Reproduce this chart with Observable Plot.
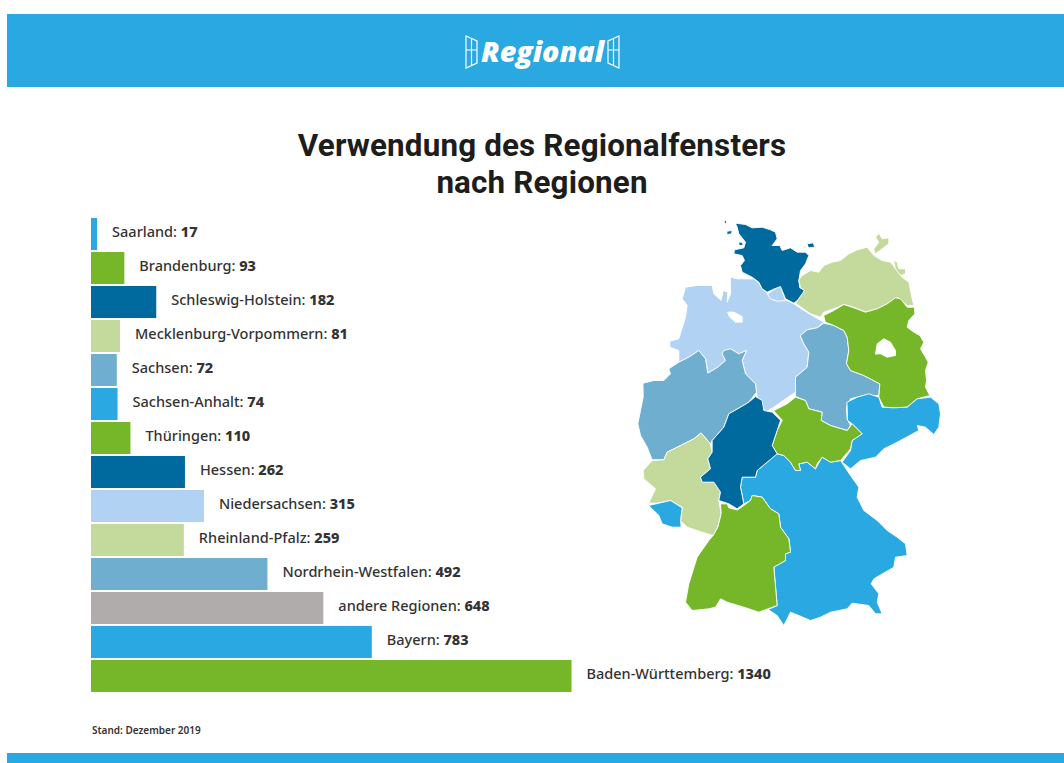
<!DOCTYPE html>
<html lang="de">
<head>
<meta charset="utf-8">
<script src="https://cdn.jsdelivr.net/npm/d3@7"></script>
<script src="https://cdn.jsdelivr.net/npm/@observablehq/plot@0.6"></script>
<style>
html,body{margin:0;padding:0;background:#fff;width:1064px;height:763px;overflow:hidden}
.abs{position:absolute}
#band{left:7px;top:14px;width:1057px;height:73px;background:#29a8e1}
#foot{left:7px;top:753px;width:1057px;height:10px;background:#29a8e1}
#logo{left:460px;top:32px}
h1{position:absolute;left:0;top:127px;width:1084px;margin:0;text-align:center;font:700 31.4px/37px Roboto,sans-serif;color:#1d1d1b;letter-spacing:.15px}
#caption{left:92px;top:723px;font:600 10px/14px "Noto Sans",sans-serif;color:#333}
#bars{left:0;top:210px}
#map{left:630px;top:210px}
svg{display:block}
</style>
</head>
<body>
<div id="band" class="abs"></div>
<svg id="logo" class="abs" width="165" height="42" viewBox="0 0 165 42">
  <g fill="none" stroke="#fff" stroke-width="1.2">
    <path d="M6 4 L17 9 V31 L6 36 Z M11.5 6.5 V33.5 M6 18 H17"/>
    <path d="M159 4 L148 9 V31 L159 36 Z M153.5 6.5 V33.5 M148 18 H159"/>
  </g>
  <text x="82.5" y="30" text-anchor="middle" textLength="123" lengthAdjust="spacingAndGlyphs" font-family="Open Sans" font-weight="800" font-style="italic" font-size="29" fill="#fff">Regional</text>
</svg>
<h1>Verwendung des Regionalfensters<br>nach Regionen</h1>
<div id="bars" class="abs"></div>
<div id="map" class="abs"></div>
<div id="caption" class="abs">Stand: Dezember 2019</div>
<div id="foot" class="abs"></div>
<script>
const regions = ["Saarland","Brandenburg","Schleswig-Holstein","Mecklenburg-Vorpommern","Sachsen","Sachsen-Anhalt","Thüringen","Hessen","Niedersachsen","Rheinland-Pfalz","Nordrhein-Westfalen","andere Regionen","Bayern","Baden-Württemberg"];
const counts = [17,93,182,81,72,74,110,262,315,259,492,648,783,1340];
const blue="#29a8e1", green="#76b72a", navy="#00699d", paleGreen="#c4da9c", steel="#70aecf", paleBlue="#b1d2f3", grey="#b0acac";
const barColors = [blue,green,navy,paleGreen,steel,blue,green,navy,paleBlue,paleGreen,steel,grey,blue,green];

// Outlines, in map units (3 units = 1 px)
const schleswigHolstein=[[315,38],[345,42],[365,52],[395,50],[420,58],[435,65],[440,85],[425,105],[448,105],[455,120],[480,112],[500,125],[525,125],[535,135],[525,160],[510,180],[505,210],[508,232],[522,238],[515,260],[490,278],[465,265],[450,228],[432,235],[410,245],[395,235],[385,215],[365,200],[335,185],[330,165],[342,150],[335,135],[310,130],[312,118],[340,112],[345,95],[325,70],[320,50]];
const shIsland1=[[290,62],[305,60],[303,70],[290,72]];
const shIsland2=[[530,100],[548,97],[553,110],[535,112]];
const shIsland3=[[282,30],[288,30],[288,38],[282,38]];
const shIsland4=[[325,95],[335,95],[338,105],[327,105]];
const mecklenburg=[[515,195],[540,180],[565,185],[580,165],[605,155],[630,150],[655,130],[680,118],[710,110],[730,135],[755,150],[780,155],[800,180],[815,200],[835,215],[845,265],[850,285],[830,285],[800,260],[790,270],[770,280],[740,295],[705,305],[670,290],[640,282],[610,295],[580,305],[570,320],[540,310],[495,278],[522,240],[510,232],[505,210]];
const ruegen=[[730,115],[745,95],[735,80],[745,68],[755,85],[775,82],[775,100],[755,115],[735,130]];
const usedom=[[790,150],[800,155],[805,175],[825,175],[825,190],[810,195],[795,175]];
const brandenburg=[[580,315],[610,300],[640,282],[670,292],[705,305],[740,295],[770,280],[795,262],[810,265],[830,290],[852,290],[853,310],[835,330],[830,350],[850,365],[868,375],[880,395],[870,415],[885,440],[893,455],[885,480],[888,510],[885,530],[898,555],[860,565],[830,590],[795,592],[760,590],[745,560],[748,520],[700,495],[660,480],[648,460],[655,420],[650,380],[640,360],[610,345],[585,335]];
const berlin=[[735,430],[740,400],[760,385],[780,395],[795,420],[795,435],[770,440],[750,430]];
const niedersachsen=[[300,200],[320,205],[345,205],[370,205],[385,218],[398,238],[412,250],[430,270],[465,268],[490,280],[520,300],[550,318],[580,335],[560,352],[530,358],[510,375],[520,400],[535,425],[530,470],[495,500],[495,545],[465,565],[430,590],[405,605],[380,560],[375,520],[345,490],[335,450],[348,420],[325,430],[300,415],[280,425],[275,430],[285,450],[262,470],[232,488],[225,445],[205,420],[175,440],[145,455],[145,420],[118,410],[118,392],[145,385],[165,320],[170,285],[155,265],[165,230],[200,225],[245,225],[250,250],[272,270],[278,240],[292,245],[290,275],[300,250]];
const hamburg=[[412,250],[430,238],[450,225],[458,250],[465,270],[440,272],[420,265]];
const steinhude=[[292,305],[310,305],[335,318],[335,335],[315,335],[298,320]];
const nrw=[[38,518],[70,510],[100,510],[120,490],[115,475],[145,455],[175,440],[205,420],[225,445],[232,488],[262,470],[285,450],[275,430],[280,420],[300,415],[325,430],[348,420],[335,450],[345,490],[375,520],[378,545],[355,575],[330,590],[295,610],[280,650],[245,690],[240,700],[212,668],[190,685],[150,705],[110,725],[100,748],[65,748],[50,710],[30,675],[22,640],[38,560]];
const hessen=[[450,630],[440,660],[425,705],[440,730],[410,755],[380,780],[375,800],[335,800],[330,830],[340,880],[320,895],[295,880],[265,870],[270,845],[250,815],[215,815],[210,800],[240,775],[232,745],[245,725],[245,690],[280,650],[295,610],[330,590],[355,575],[375,558],[395,570],[400,600],[425,605]];
const thueringen=[[430,600],[470,580],[495,560],[525,570],[535,595],[575,605],[572,630],[600,645],[650,660],[665,640],[695,670],[665,690],[660,715],[630,750],[600,755],[575,740],[560,760],[555,775],[530,755],[505,760],[510,780],[495,780],[480,755],[460,735],[440,730],[425,705],[440,660],[455,630]];
const sachsenAnhalt=[[510,375],[530,358],[560,352],[580,338],[610,345],[640,360],[650,380],[655,420],[648,460],[660,480],[700,495],[748,520],[745,555],[700,555],[660,565],[648,590],[650,625],[660,645],[650,660],[600,645],[572,630],[575,605],[535,595],[525,570],[495,558],[495,500],[530,470],[535,425],[520,400]];
const sachsen=[[650,575],[680,560],[715,550],[745,560],[755,590],[790,592],[830,590],[860,565],[900,560],[925,580],[930,610],[925,650],[910,672],[885,650],[860,645],[865,660],[800,695],[760,715],[735,740],[690,750],[660,775],[635,755],[660,720],[665,690],[695,670],[665,640],[652,630]];
const bayern=[[440,730],[460,735],[480,755],[495,780],[510,780],[505,760],[530,755],[555,775],[575,740],[600,755],[630,750],[660,795],[685,830],[680,860],[700,900],[740,930],[770,960],[800,980],[825,1000],[830,1035],[795,1040],[790,1070],[730,1105],[722,1120],[745,1150],[740,1175],[755,1210],[735,1210],[715,1185],[665,1178],[650,1195],[600,1205],[570,1220],[540,1230],[505,1215],[480,1205],[460,1245],[440,1215],[410,1195],[390,1208],[440,1185],[430,1070],[465,1050],[465,1030],[480,1025],[475,985],[450,950],[445,910],[420,895],[395,860],[365,855],[360,870],[340,880],[330,830],[335,800],[375,800],[380,780],[410,755]];
const badenWuerttemberg=[[340,885],[360,870],[365,855],[395,860],[420,895],[445,910],[450,950],[475,985],[480,1025],[465,1030],[465,1050],[430,1070],[440,1185],[385,1205],[340,1190],[290,1175],[270,1165],[255,1190],[235,1195],[185,1200],[165,1175],[175,1120],[200,1040],[235,990],[248,975],[262,950],[272,910],[270,880],[290,880],[295,892],[320,898]];
const rheinlandPfalz=[[212,668],[240,700],[245,725],[232,745],[240,775],[210,800],[215,815],[250,815],[270,845],[265,870],[272,910],[262,950],[248,975],[215,965],[170,950],[150,930],[155,890],[120,870],[80,878],[55,878],[75,835],[40,805],[38,780],[65,750],[100,748],[110,725],[150,705],[190,685]];
const saarland=[[55,885],[120,870],[155,892],[150,930],[152,950],[125,950],[95,940],[85,915]];

const shapes = [
  [niedersachsen,paleBlue],[hamburg,paleBlue],[steinhude,"#fff"],
  [schleswigHolstein,navy],[shIsland1,navy],[shIsland2,navy],[shIsland3,navy],[shIsland4,navy],
  [mecklenburg,paleGreen],[ruegen,paleGreen],[usedom,paleGreen],
  [nrw,steel],[sachsenAnhalt,steel],[brandenburg,green],[berlin,"#fff"],
  [rheinlandPfalz,paleGreen],[saarland,blue],[sachsen,blue],[bayern,blue],
  [badenWuerttemberg,green],[thueringen,green],[hessen,navy]
];

const rows = regions.map((region,i)=>({region,count:counts[i],color:barColors[i]}));

const bars = Plot.plot({
  width:1064, height:490, margin:0,
  x:{domain:[0,1340],range:[91,571.5],axis:null},
  y:{domain:regions,range:[6,483.6],paddingInner:0.06,paddingOuter:0,axis:null},
  color:{type:"identity"},
  marks:[
    Plot.barX(rows,{x:"count",y:"region",fill:"color"}),
    Plot.text(rows,{x:"count",y:"region",dx:14.5,dy:-2.5,textAnchor:"start",text:d=>`${d.region}: ${d.count}`,fontSize:14.5,fill:"#333",fontFamily:"Noto Sans"})
  ]
});
// Value part of each label in bold
d3.select(bars).selectAll("text").each(function(){
  const full=this.textContent, cut=full.lastIndexOf(": ")+2;
  const el=d3.select(this).text(null);
  el.append("tspan").attr("font-weight",500).text(full.slice(0,cut));
  el.append("tspan").attr("font-weight",800).text(full.slice(cut));
});
document.getElementById("bars").append(bars);

const map = Plot.plot({
  width:320, height:420, margin:0,
  x:{domain:[0,960],range:[0,320],axis:null},
  y:{domain:[0,1260],range:[0,420],axis:null},
  color:{type:"identity"},
  marks: shapes.map(([pts,color])=>Plot.line(pts,{x:d=>d[0],y:d=>d[1],fill:()=>color,stroke:"#fff",strokeWidth:0.9,curve:"linear-closed"}))
});
document.getElementById("map").append(map);
</script>
</body>
</html>
